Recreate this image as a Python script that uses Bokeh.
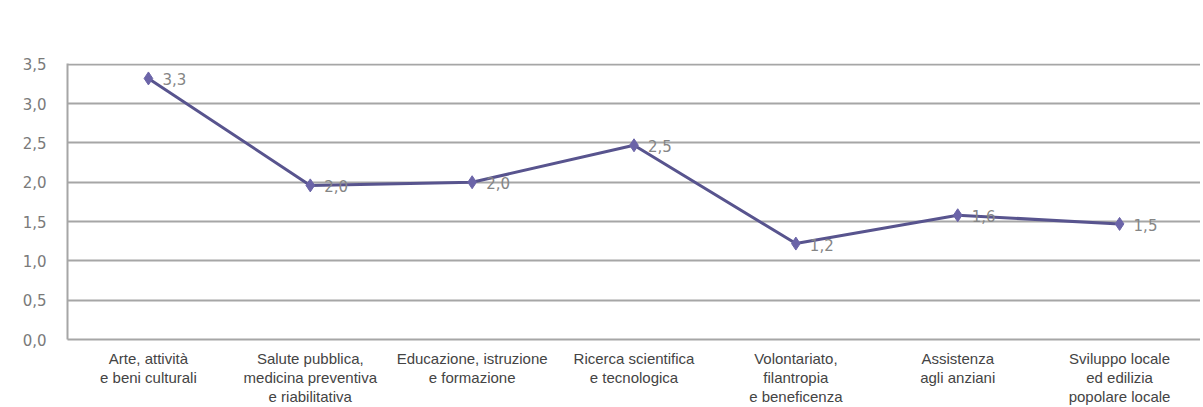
from bokeh.plotting import figure
from bokeh.models import ColumnDataSource, FixedTicker, FactorRange
from bokeh.core.properties import value
from bokeh.embed import file_html
from bokeh.resources import INLINE

categories = [
    "Arte, attività\ne beni culturali",
    "Salute pubblica,\nmedicina preventiva\ne riabilitativa",
    "Educazione, istruzione\ne formazione",
    "Ricerca scientifica\ne tecnologica",
    "Volontariato,\nfilantropia\ne beneficenza",
    "Assistenza\nagli anziani",
    "Sviluppo locale\ned edilizia\npopolare locale",
]
values = [3.32, 1.96, 2.0, 2.47, 1.22, 1.58, 1.47]
labels = ["3,3", "2,0", "2,0", "2,5", "1,2", "1,6", "1,5"]
y_ticks = [0.0, 0.5, 1.0, 1.5, 2.0, 2.5, 3.0, 3.5]
y_tick_labels = ["0,0", "0,5", "1,0", "1,5", "2,0", "2,5", "3,0", "3,5"]

src = ColumnDataSource(dict(x=categories, y=values, lab=labels))

p = figure(width=1200, height=407, x_range=FactorRange(*categories, range_padding=0),
           y_range=(0, 3.51), output_backend="svg", toolbar_location=None,
           min_border_left=67, min_border_right=0, min_border_top=63, min_border_bottom=60)
p.x_range.factor_padding = 0
p.outline_line_color = None
p.background_fill_color = "white"

p.line("x", "y", source=src, line_color="#58548e", line_width=3)
p.scatter("x", "y", source=src, marker="diamond", size=13, fill_color="#6b64a8",
          line_color="#6b64a8")
p.text("x", "y", text="lab", source=src, x_offset=14, y_offset=1,
       text_font=value("DejaVu Sans"), text_font_size="15px", text_color="#858585",
       text_align="left", text_baseline="middle")

p.ygrid.ticker = FixedTicker(ticks=y_ticks)
p.ygrid.grid_line_color = "#a6a6a6"
p.ygrid.grid_line_width = 2
p.xgrid.grid_line_color = None

p.yaxis.ticker = FixedTicker(ticks=y_ticks)
p.yaxis.major_label_overrides = {t: l for t, l in zip(y_ticks, y_tick_labels)}
p.yaxis.major_tick_line_color = None
p.yaxis.minor_tick_line_color = None
p.yaxis.axis_line_color = "#a6a6a6"
p.yaxis.axis_line_width = 2
p.yaxis.major_label_text_font = "DejaVu Sans"
p.yaxis.major_label_text_font_size = "15px"
p.yaxis.major_label_text_color = "#7a7a7a"
p.yaxis.major_label_standoff = 15

p.xaxis.major_tick_line_color = None
p.xaxis.axis_line_color = "#a6a6a6"
p.xaxis.axis_line_width = 2
p.xaxis.major_label_text_font = "Liberation Sans"
p.xaxis.major_label_text_font_size = "15px"
p.xaxis.major_label_text_line_height = 1.13
p.xaxis.major_label_text_color = "#444444"
p.xaxis.major_label_standoff = 4
p.xaxis.major_label_orientation = "horizontal"

open("out.html", "w").write(file_html(p, INLINE))
